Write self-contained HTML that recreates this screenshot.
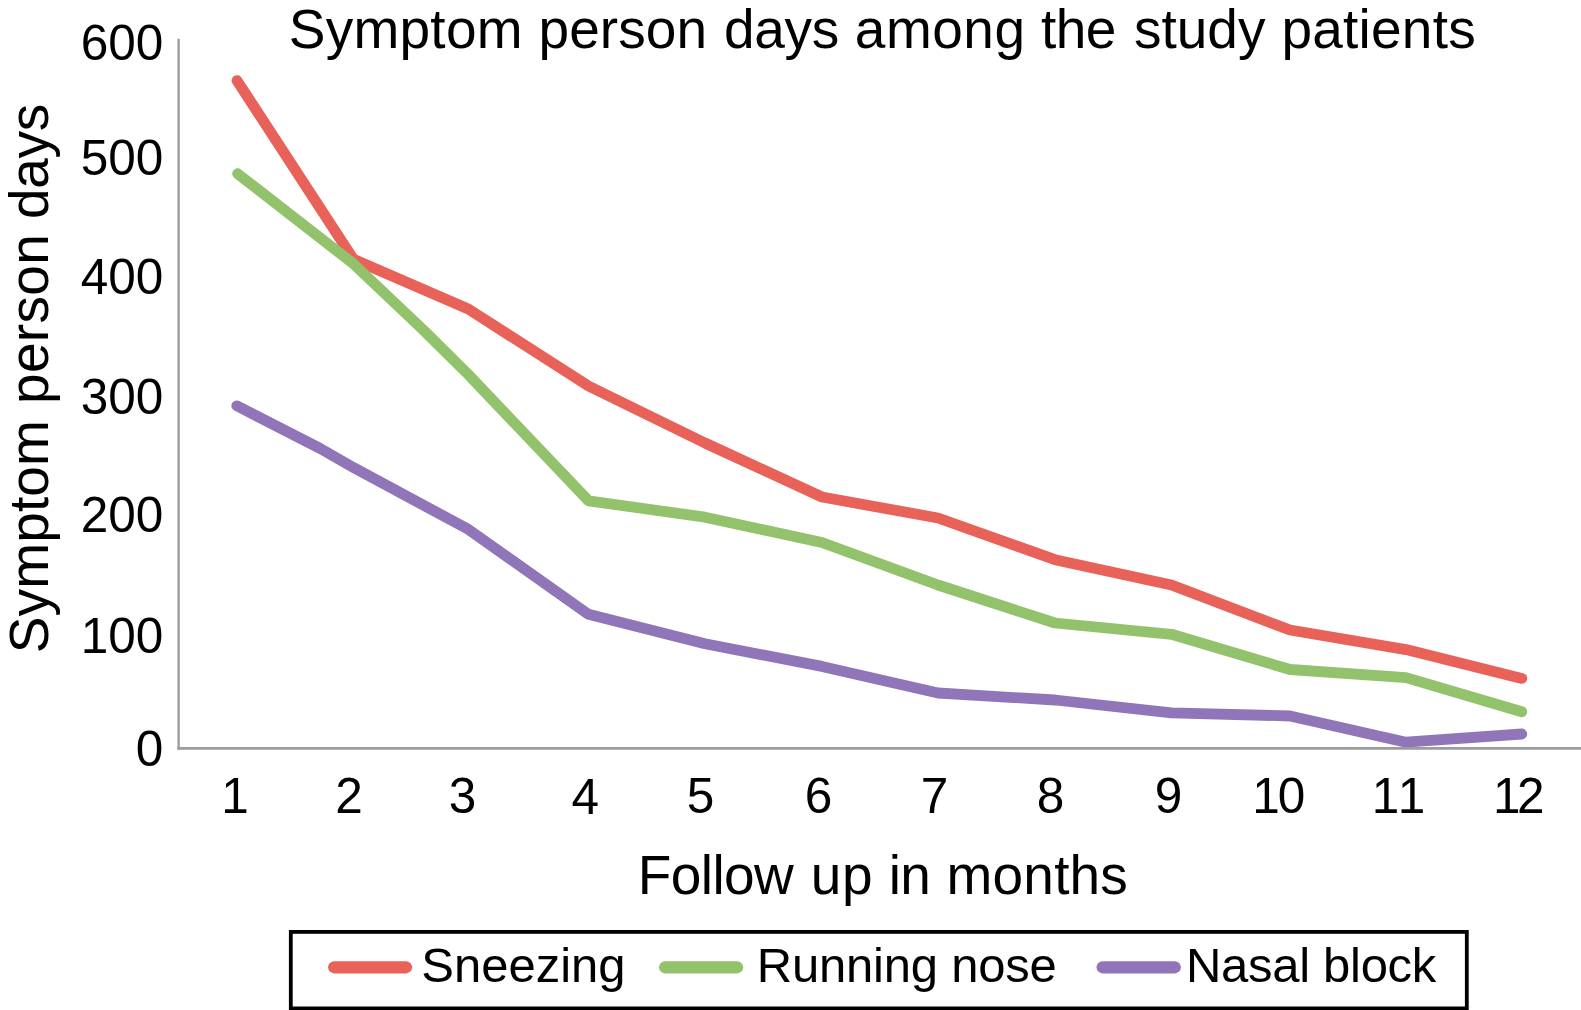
<!DOCTYPE html>
<html lang="en">
<head>
<meta charset="utf-8">
<title>Symptom person days among the study patients</title>
<style>
html,body{margin:0;padding:0;background:#fff;}
body{width:1581px;height:1010px;overflow:hidden;}
svg{display:block;font-family:"Liberation Sans",Arial,Helvetica,sans-serif;fill:#000;}
.tick{font-size:49.5px;}
.big{font-size:55px;}
.leg{font-size:49px;}
.ln{fill:none;stroke-width:10.8;stroke-linecap:round;stroke-linejoin:round;}
</style>
</head>
<body>
<svg width="1581" height="1010" viewBox="0 0 1581 1010">
<rect width="1581" height="1010" fill="#fff"/>
<text class="big" y="47.5"><tspan x="288.7" letter-spacing="0.27">Symptom </tspan><tspan x="538.5" letter-spacing="0.07">person </tspan><tspan x="724" letter-spacing="-0.3">days </tspan><tspan x="854.8" letter-spacing="0.5">among </tspan><tspan x="1041" letter-spacing="-0.5">the </tspan><tspan x="1134" letter-spacing="0">study </tspan><tspan x="1281.4" letter-spacing="0.24">patients</tspan></text>
<text class="big" transform="translate(47.8,653.3) rotate(-90)"><tspan x="0.0" letter-spacing="0.15">Symptom </tspan><tspan x="249.4" letter-spacing="0.3">person </tspan><tspan x="434.3" letter-spacing="-0.3">days</tspan></text>
<text class="big" y="894"><tspan x="637.8" letter-spacing="-0.58">Follow </tspan><tspan x="810.8" letter-spacing="0.6">up </tspan><tspan x="888.7" letter-spacing="-0.7">in </tspan><tspan x="946.6" letter-spacing="0.18">months</tspan></text>
<text class="tick" x="163.3" y="59.5" text-anchor="end">600</text>
<text class="tick" x="163.3" y="174.5" text-anchor="end">500</text>
<text class="tick" x="163.3" y="294.4" text-anchor="end">400</text>
<text class="tick" x="163.3" y="414" text-anchor="end">300</text>
<text class="tick" x="163.3" y="531.8" text-anchor="end">200</text>
<text class="tick" x="163.3" y="652.8" text-anchor="end">100</text>
<text class="tick" x="163.3" y="766" text-anchor="end">0</text>
<text class="tick" x="235" y="813" text-anchor="middle">1</text>
<text class="tick" x="349" y="813" text-anchor="middle">2</text>
<text class="tick" x="462.6" y="813" text-anchor="middle">3</text>
<text class="tick" x="585.2" y="813.5" text-anchor="middle">4</text>
<text class="tick" x="700.4" y="812.5" text-anchor="middle">5</text>
<text class="tick" x="818.5" y="812.5" text-anchor="middle">6</text>
<text class="tick" x="934.5" y="812.5" text-anchor="middle">7</text>
<text class="tick" x="1050.6" y="812.5" text-anchor="middle">8</text>
<text class="tick" x="1168.5" y="812.5" text-anchor="middle">9</text>
<text class="tick" x="1252.2 1277.7" y="812.5">10</text>
<text class="tick" x="1371.7 1397.8" y="812.5">11</text>
<text class="tick" x="1492.9 1517" y="812.5">12</text>
<polyline class="ln" stroke="#e8625a" points="237.0,80.6 353.5,259.3 468.3,309.0 588.5,386.0 705.0,443.0 822.0,497.0 938.0,518.0 1055.0,559.7 1171.5,585.0 1290.0,630.0 1406.0,649.6 1521.8,678.4"/>
<polyline class="ln" stroke="#92c26b" points="237.6,173.7 353.5,263.8 423.2,329.8 468.3,374.5 588.5,500.8 705.0,517.2 822.0,542.5 938.0,585.0 1055.0,623.0 1171.5,634.3 1290.0,669.5 1406.0,677.6 1521.8,711.8"/>
<polyline class="ln" stroke="#9075b8" points="236.8,405.8 320.0,448.4 353.5,467.6 468.3,529.3 588.5,614.3 705.0,643.7 822.0,666.4 938.0,693.0 1055.0,700.0 1171.5,712.8 1290.0,716.0 1406.0,742.2 1521.8,734.0"/>
<line x1="178.6" y1="38.8" x2="178.6" y2="749.7" stroke="#9a9d9c" stroke-width="2.4"/>
<line x1="177.4" y1="748.4" x2="1581" y2="748.4" stroke="#9a9d9c" stroke-width="2.6"/>
<rect x="290.8" y="931.9" width="1176" height="76.5" fill="none" stroke="#000" stroke-width="3.8"/>
<line x1="334.2" y1="967.3" x2="406.0" y2="967.3" stroke="#e8625a" stroke-width="12.2" stroke-linecap="round"/>
<line x1="665.1" y1="967.3" x2="737.1" y2="967.3" stroke="#92c26b" stroke-width="12.2" stroke-linecap="round"/>
<line x1="1102.6" y1="967.3" x2="1174.8" y2="967.3" stroke="#9075b8" stroke-width="12.2" stroke-linecap="round"/>
<text class="leg" x="421.3" y="982">Sneezing</text>
<text class="leg" x="756.8" y="982" letter-spacing="-0.22">Running nose</text>
<text class="leg" x="1186" y="982" letter-spacing="-0.3">Nasal block</text>
</svg>
</body>
</html>
